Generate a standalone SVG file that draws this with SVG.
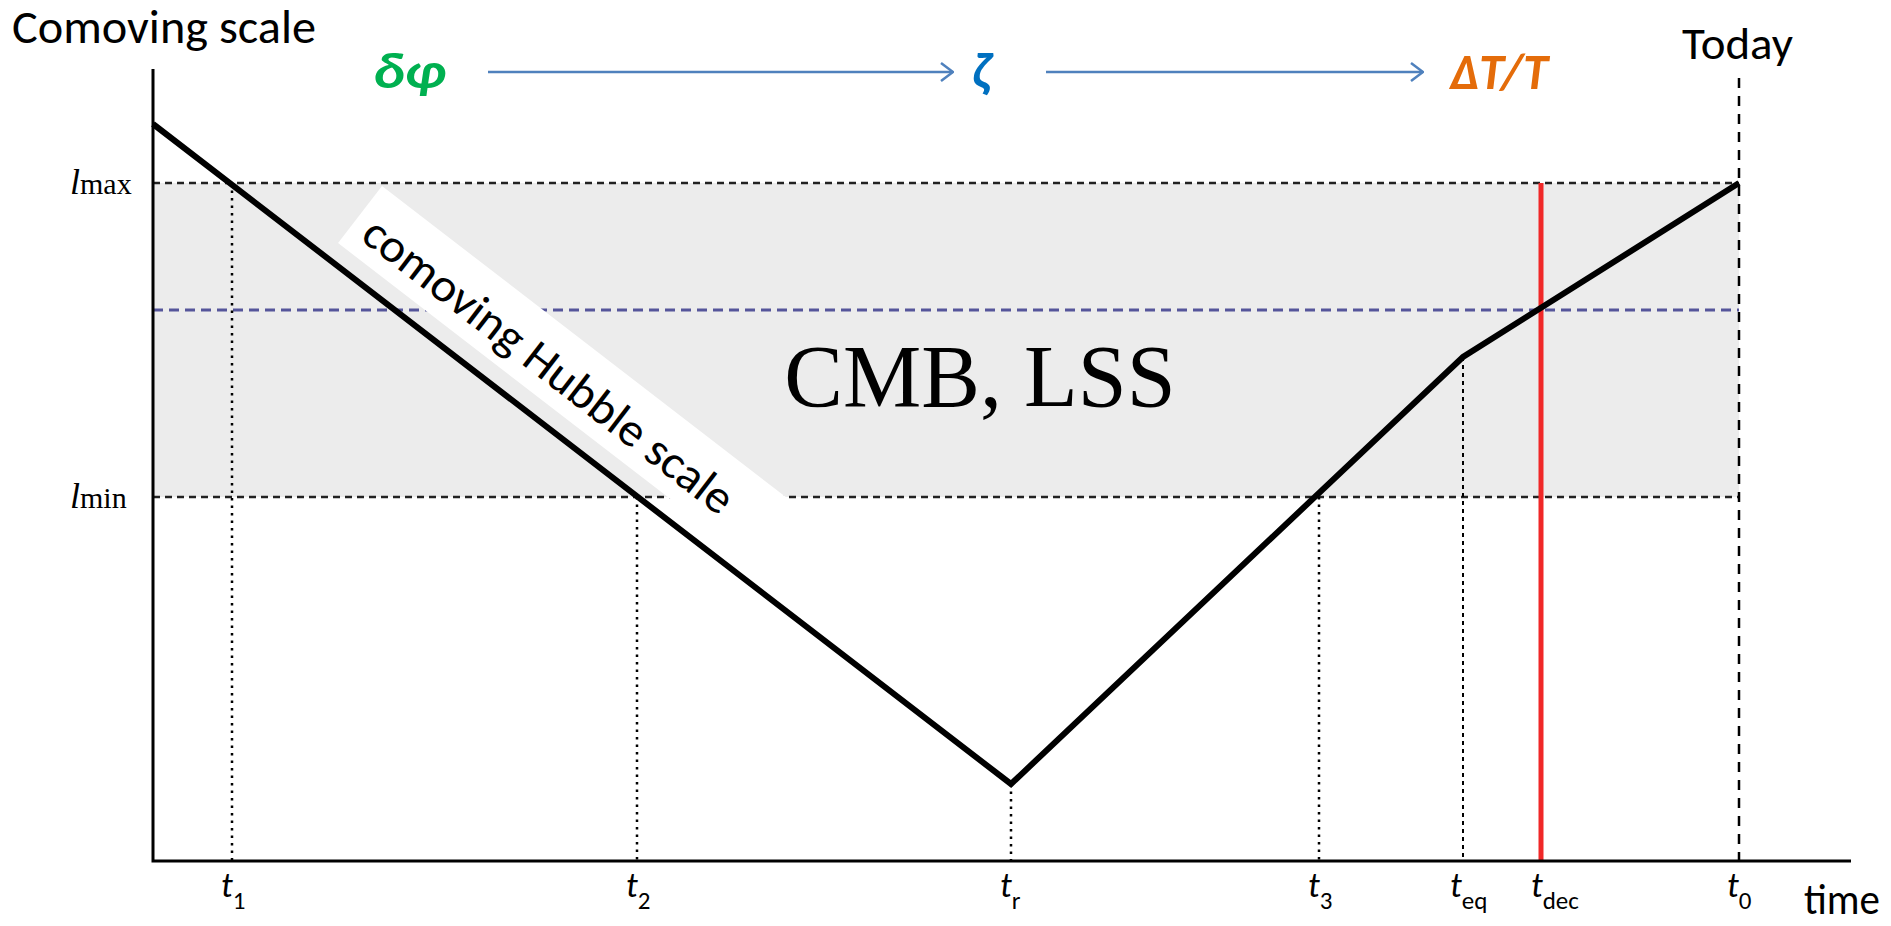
<svg xmlns="http://www.w3.org/2000/svg" width="1891" height="926" viewBox="0 0 1891 926">
<defs>
<style>
.cal{font-family:Carlito,Lato,"Open Sans",sans-serif;fill:#000}
.tm{font-family:"Liberation Serif","DejaVu Serif",serif;font-style:italic;fill:#000}
.tmr{font-family:"Liberation Serif","DejaVu Serif",serif;fill:#000}
.tl{font-family:Carlito,Lato,"Open Sans",sans-serif;font-style:italic;fill:#000}
.dot{stroke:#000;stroke-width:2.5;stroke-dasharray:2.5 5;fill:none}
.hdash{stroke:#222;stroke-width:2.5;stroke-dasharray:7 5;fill:none}
.arr{stroke:#4F81BD;stroke-width:2.5;fill:none}
.sym{font-family:Carlito,Lato,"Open Sans",sans-serif;font-weight:bold;font-style:italic}
</style>
<marker id="chev" viewBox="0 0 14 20" refX="13" refY="10" markerWidth="14" markerHeight="20" markerUnits="userSpaceOnUse" orient="auto">
<path d="M1 1 L13 10 L1 19" fill="none" stroke="#4F81BD" stroke-width="2.5"/>
</marker>
</defs>
<rect width="1891" height="926" fill="#fff"/>
<g id="band-region">
<rect x="153" y="183" width="1586" height="314" fill="#ececec"/>
</g>
<g id="connectors">
<line class="hdash" x1="153" y1="183" x2="1739" y2="183"/>
<line class="hdash" x1="153" y1="497" x2="1739" y2="497"/>
<line x1="153" y1="310" x2="1739" y2="310" stroke="#55559a" stroke-width="3" stroke-dasharray="10 6"/>
<line class="dot" x1="232" y1="183" x2="232" y2="861"/>
<line class="dot" x1="637" y1="497" x2="637" y2="861"/>
<line class="dot" x1="1011" y1="784" x2="1011" y2="861"/>
<line class="dot" x1="1319" y1="497" x2="1319" y2="861"/>
<line x1="1463" y1="357" x2="1463" y2="861" stroke="#000" stroke-width="2" stroke-dasharray="4 4"/>
<line x1="1739" y1="78" x2="1739" y2="861" stroke="#000" stroke-width="2.5" stroke-dasharray="10 8"/>
<line x1="1541" y1="183" x2="1541" y2="861" stroke="#f02828" stroke-width="5"/>
<line class="arr" x1="488" y1="72" x2="953" y2="72" marker-end="url(#chev)"/>
<line class="arr" x1="1046" y1="72" x2="1423" y2="72" marker-end="url(#chev)"/>
</g>
<g id="hubble-label" transform="translate(382,186) rotate(37.6)">
<rect x="0" y="0" width="560" height="72" fill="#fff"/>
<text class="cal" x="14" y="56" font-size="47" textLength="455" lengthAdjust="spacingAndGlyphs">comoving Hubble scale</text>
</g>
<g id="curve">
<polyline points="153,124 1011,784 1463,357 1739,183" fill="none" stroke="#000" stroke-width="6" stroke-linejoin="miter"/>
</g>
<g id="axes">
<polyline points="153,69 153,861 1851,861" fill="none" stroke="#000" stroke-width="3"/>
</g>
<g id="cmb-lss"><text class="tmr" x="980" y="406" font-size="88" text-anchor="middle">CMB, LSS</text></g>
<g id="y-title"><text class="cal" x="12" y="43" font-size="47" textLength="304" lengthAdjust="spacingAndGlyphs">Comoving scale</text></g>
<g id="today"><text class="cal" x="1682" y="59" font-size="45" textLength="111" lengthAdjust="spacingAndGlyphs">Today</text></g>
<g id="time"><text class="cal" x="1804" y="914" font-size="43" textLength="76" lengthAdjust="spacingAndGlyphs">time</text></g>
<g id="lmax"><text class="tm" x="70" y="194" font-size="36">l<tspan class="tmr" font-style="normal" font-size="30">max</tspan></text></g>
<g id="lmin"><text class="tm" x="70" y="508" font-size="36">l<tspan class="tmr" font-style="normal" font-size="30">min</tspan></text></g>
<g id="dphi"><text class="sym" x="373" y="88" font-size="50" fill="#00B050" textLength="73" lengthAdjust="spacingAndGlyphs">δφ</text></g>
<g id="zeta"><text class="sym" x="972" y="88" font-size="50" fill="#0070C0">ζ</text></g>
<g id="dTT"><text class="sym" x="1450" y="89" font-size="50" fill="#E46C0A" textLength="98" lengthAdjust="spacingAndGlyphs">ΔT/T</text></g>
<g id="t-labels" class="tl" font-size="35">
<text x="221" y="897">t<tspan font-size="25" font-style="normal" dy="12">1</tspan></text>
<text x="626" y="897">t<tspan font-size="25" font-style="normal" dy="12">2</tspan></text>
<text x="1000" y="897">t<tspan font-size="25" font-style="normal" dy="12">r</tspan></text>
<text x="1308" y="897">t<tspan font-size="25" font-style="normal" dy="12">3</tspan></text>
<text x="1450" y="897">t<tspan font-size="25" font-style="normal" dy="12">eq</tspan></text>
<text x="1531" y="897">t<tspan font-size="25" font-style="normal" dy="12">dec</tspan></text>
<text x="1727" y="897">t<tspan font-size="25" font-style="normal" dy="12">0</tspan></text>
</g>
</svg>
